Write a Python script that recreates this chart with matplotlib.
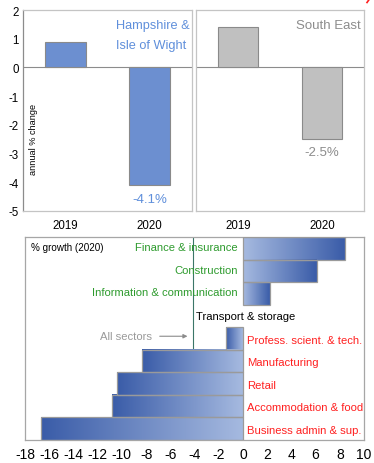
import numpy as np
import matplotlib
matplotlib.use("Agg")
import matplotlib.pyplot as plt
from matplotlib.patches import Rectangle
from matplotlib.lines import Line2D
from matplotlib.colors import to_rgb

plt.rcParams['font.family'] = ['Liberation Sans', 'DejaVu Sans']

# annual % change in output
years = ['2019', '2020']
hiow = [0.9, -4.1]
south_east = [1.4, -2.5]

# % growth by sector, 2020
sectors = ['Finance & insurance', 'Construction', 'Information & communication',
           'Transport & storage', 'Profess. scient. & tech.', 'Manufacturing',
           'Retail', 'Accommodation & food', 'Business admin & sup.']
growth = [8.4, 6.1, 2.2, 0.0, -1.4, -8.3, -10.4, -10.8, -16.7]
label_colors = ['#2E9B2E', '#2E9B2E', '#2E9B2E', '#000000', '#FF2020',
                '#FF2020', '#FF2020', '#FF2020', '#FF2020']
all_sectors = -4.1

fig = plt.figure(figsize=(3.74, 4.64), dpi=100)
W, H = 374, 464


def box(x0, y0, x1, y1):
    return [x0 / W, 1 - y1 / H, (x1 - x0) / W, (y1 - y0) / H]


ax1 = fig.add_axes(box(23, 11, 192, 212))
ax2 = fig.add_axes(box(196, 11, 364, 212))
ax3 = fig.add_axes(box(25, 238, 364, 441))

# --- top panels ---
x = np.arange(len(years))
ax1.bar(x, hiow, width=0.48, color='#6C8FD0', edgecolor='#8A8A8A', lw=0.8, zorder=2)
ax2.bar(x, south_east, width=0.48, color='#C0C0C0', edgecolor='#8A8A8A', lw=0.8, zorder=2)

for ax in (ax1, ax2):
    ax.set_xlim(-0.5, 1.5)
    ax.set_ylim(-5, 2)
    ax.axhline(0, color='#8C8C8C', lw=0.8, zorder=1)
    ax.set_xticks(x)
    ax.set_xticklabels(years, fontsize=8.3)
    ax.tick_params(length=0, pad=6)
    for s in ax.spines.values():
        s.set_color('#C4C4C4')
        s.set_linewidth(0.9)

ax1.set_yticks(range(-5, 3))
ax1.set_yticklabels([str(v) for v in range(-5, 3)], fontsize=8.3)
ax1.tick_params(axis='y', pad=3)
ax1.spines['left'].set_color('#8C8C8C')
ax2.set_yticks([])

blue_txt = '#5F8FDB'
ax1.text(0.550, 0.910, 'Hampshire &', transform=ax1.transAxes, ha='left',
         va='baseline', fontsize=9.2, color=blue_txt)
ax1.text(0.550, 0.811, 'Isle of Wight', transform=ax1.transAxes, ha='left',
         va='baseline', fontsize=9.2, color=blue_txt)
ax1.text(1, hiow[1] - 0.48, f'{hiow[1]:.1f}%', ha='center', va='center',
         fontsize=9.5, color=blue_txt)
ax1.text(-0.38, -2.49, 'annual % change', rotation=90, ha='center', va='center',
         fontsize=6.6)

ax2.text(0.982, 0.910, 'South East', transform=ax2.transAxes, ha='right',
         va='baseline', fontsize=9.5, color='#8C8C8C')
ax2.text(1, south_east[1] - 0.45, f'{south_east[1]:.1f}%', ha='center', va='center',
         fontsize=9.5, color='#8C8C8C')

# --- sector growth panel ---
dark = np.array(to_rgb('#3A5CA8'))
light = np.array(to_rgb('#A6BAE0'))
t = np.linspace(0, 1, 256)[:, None]
ramp = (light + (dark - light) * t)[None, :, :]

ax3.axvline(all_sectors, color='#3B7668', lw=0.8, zorder=1)
for i, v in enumerate(growth):
    if v == 0:
        continue
    img = ramp if v > 0 else ramp[:, ::-1, :]
    lo, hi = min(0, v), max(0, v)
    ax3.imshow(img, extent=(lo, hi, i + 0.5, i - 0.5), aspect='auto',
               interpolation='bilinear', zorder=2)
    ax3.add_patch(Rectangle((lo, i - 0.5), hi - lo, 1, fill=False,
                            edgecolor='#9A9A9A', lw=0.9, zorder=3))

for i, (name, col) in enumerate(zip(sectors, label_colors)):
    if col == '#2E9B2E':
        ax3.text(-0.4, i - 0.05, name, ha='right', va='center', fontsize=8.1,
                 color=col, zorder=4)
    elif col == '#000000':
        ax3.text(-3.85, i, name, ha='left', va='center', fontsize=8.1,
                 color=col, zorder=4)
    else:
        ax3.text(0.33, i + 0.05, name, ha='left', va='center', fontsize=8.1,
                 color=col, zorder=4)

ax3.text(-7.5, 3.9, 'All sectors', ha='right', va='center', fontsize=8.1,
         color='#9A9A9A')
ax3.annotate('', xy=(all_sectors - 0.25, 3.9), xytext=(-7.1, 3.9),
             arrowprops=dict(arrowstyle='-|>', color='#8C8C8C', lw=0.8,
                             mutation_scale=6))
ax3.text(0.017, 0.951, '% growth (2020)', transform=ax3.transAxes, ha='left',
         va='center', fontsize=7.1)

ax3.set_xlim(-18, 10)
ax3.set_ylim(len(sectors) - 0.5, -0.5)
ax3.set_xticks(range(-18, 11, 2))
ax3.set_xticklabels([str(v) for v in range(-18, 11, 2)], fontsize=10)
ax3.set_yticks([])
ax3.tick_params(length=0, pad=5)
for s in ax3.spines.values():
    s.set_color('#A6A6A6')
    s.set_linewidth(0.9)

# clipped red stroke in the top-right corner
fig.add_artist(Line2D([367 / W, 369.5 / W], [1 - 3.5 / H, 1.0], color='#FF2020', lw=1.2))

fig.savefig('out.png', dpi=100)
